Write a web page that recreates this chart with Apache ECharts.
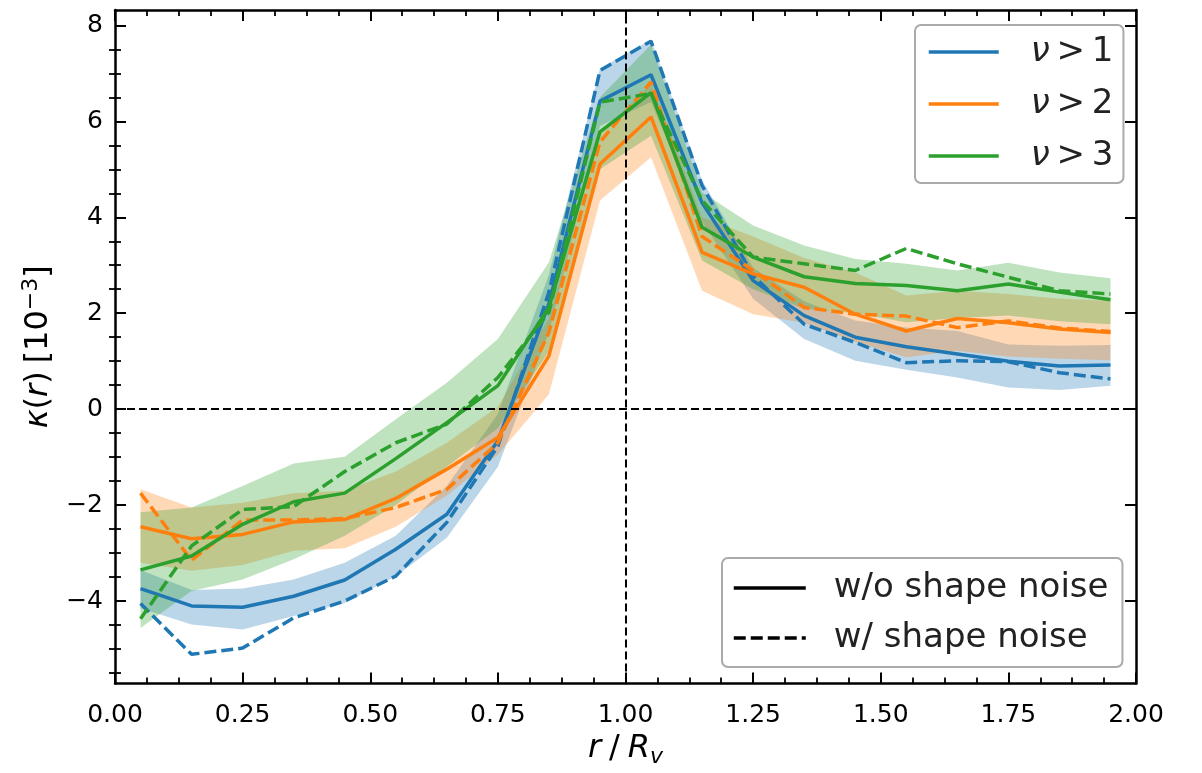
<!DOCTYPE html>
<html>
<head>
<meta charset="utf-8">
<script src="https://cdn.jsdelivr.net/npm/echarts@6/dist/echarts.min.js"></script>
<style>
  html, body { margin: 0; padding: 0; background: #fff; }
  #main { width: 1202px; height: 773px; }
</style>
</head>
<body>
<div id="main"></div>
<script>
// radial bins r / R_v
const rValues = [0.05, 0.15, 0.25, 0.35, 0.45, 0.55, 0.65, 0.75, 0.85, 0.95,
                 1.05, 1.15, 1.25, 1.35, 1.45, 1.55, 1.65, 1.75, 1.85, 1.95];

// nu > 1
const nu1Clean = [-3.74, -4.10, -4.13, -3.90, -3.56, -2.92, -2.19, -0.66, 2.20, 6.42,
                  6.97, 4.30, 2.68, 1.95, 1.50, 1.30, 1.15, 1.00, 0.90, 0.92];
const nu1Noisy = [-4.05, -5.11, -4.98, -4.35, -4.00, -3.48, -2.36, -0.77, 2.44, 7.06,
                  7.67, 4.66, 2.78, 1.77, 1.39, 0.97, 1.01, 0.99, 0.76, 0.63];
const nu1Hi = [-3.35, -3.77, -3.74, -3.55, -3.20, -2.64, -1.60, -0.10, 2.80, 7.10,
               7.70, 4.77, 2.95, 2.25, 1.85, 1.70, 1.63, 1.35, 1.32, 1.34];
const nu1Lo = [-4.15, -4.49, -4.59, -4.31, -4.04, -3.48, -2.68, -1.20, 1.60, 5.90,
               6.40, 3.90, 2.30, 1.46, 1.01, 0.82, 0.66, 0.45, 0.40, 0.49];

// nu > 2
const nu2Clean = [-2.45, -2.70, -2.61, -2.35, -2.30, -1.86, -1.25, -0.59, 1.11, 5.11,
                  6.09, 3.27, 2.82, 2.54, 1.98, 1.63, 1.89, 1.80, 1.67, 1.60];
const nu2Noisy = [-1.75, -3.15, -2.31, -2.31, -2.28, -2.05, -1.67, -0.70, 1.60, 5.57,
                  6.82, 3.60, 2.89, 2.12, 1.98, 1.94, 1.70, 1.84, 1.69, 1.62];
const nu2Hi = [-1.67, -2.05, -1.95, -1.75, -1.70, -1.30, -0.70, 0.05, 1.90, 5.70,
               6.80, 4.00, 3.60, 3.15, 2.85, 2.37, 2.47, 2.40, 2.30, 2.26];
const nu2Lo = [-3.20, -3.37, -3.25, -2.95, -2.90, -2.45, -1.80, -0.95, 0.31, 4.35,
               5.25, 2.47, 1.98, 1.80, 1.40, 1.08, 1.22, 1.10, 1.05, 1.02];

// nu > 3
const nu3Clean = [-3.35, -3.06, -2.40, -1.93, -1.75, -1.03, -0.28, 0.49, 2.12, 5.78,
                  6.60, 3.79, 3.17, 2.76, 2.62, 2.58, 2.47, 2.61, 2.44, 2.28];
const nu3Noisy = [-4.37, -2.85, -2.09, -2.03, -1.30, -0.70, -0.31, 0.66, 2.02, 6.40,
                  6.58, 4.35, 3.17, 3.03, 2.89, 3.35, 3.03, 2.75, 2.47, 2.40];
const nu3Hi = [-2.15, -2.05, -1.60, -1.13, -0.99, -0.21, 0.55, 1.46, 3.06, 6.50,
               7.60, 4.52, 3.83, 3.41, 3.13, 3.03, 2.89, 3.05, 2.85, 2.73];
const nu3Lo = [-4.56, -3.79, -3.55, -3.13, -2.64, -2.00, -1.20, -0.40, 1.20, 5.00,
               5.70, 3.10, 2.50, 2.10, 2.00, 1.81, 1.90, 1.95, 1.83, 1.77];

// ticks
const yMajorTicks = [-4, -2, 0, 2, 4, 6, 8];
const yMinorTicks = [-5.5, -5, -4.5, -3.5, -3, -2.5, -1.5, -1, -0.5, 0.5, 1, 1.5,
                     2.5, 3, 3.5, 4.5, 5, 5.5, 6.5, 7, 7.5];
const yMin = -5.72, yMax = 8.32;

const colors = { nu1: '#1f77b4', nu2: '#ff7f0e', nu3: '#2ca02c' };
const FONT = 'DejaVu Sans';

function pairs(ys) {
  return rValues.map((r, i) => [r, ys[i]]);
}

// shaded band between lo and hi, drawn as one polygon through the axes
function band(lo, hi, color) {
  return {
    type: 'custom', silent: true, z: 2,
    data: rValues.map((r, i) => [r, lo[i], hi[i]]),
    encode: { x: 0, y: [1, 2] },
    renderItem: (params, api) => {
      if (params.dataIndex !== 0) return null;
      const top = rValues.map((r, i) => api.coord([r, hi[i]]));
      const bottom = rValues.map((r, i) => api.coord([r, lo[i]])).reverse();
      return {
        type: 'polygon',
        shape: { points: top.concat(bottom) },
        style: { fill: echarts.color.modifyAlpha(color, 0.3), stroke: null }
      };
    }
  };
}

function line(name, ys, color, dashed) {
  return {
    name: name, type: 'line', data: pairs(ys), symbol: 'none', z: 3,
    color: color,
    lineStyle: { color: color, width: 3.5, type: dashed ? [12, 5] : 'solid' }
  };
}

const chart = echarts.init(document.getElementById('main'));

const tickLabel = { fontFamily: FONT, fontSize: 25, color: '#000' };

const xBase = {
  type: 'value', min: 0, max: 2, interval: 0.25,
  axisLine: { show: true, onZero: false, lineStyle: { color: '#000', width: 2.5 } },
  axisTick: { show: true, inside: true, length: 11, lineStyle: { color: '#000', width: 2 } },
  minorTick: { show: true, splitNumber: 4, length: 6, lineStyle: { color: '#000', width: 1.8 } },
  splitLine: { show: false }
};

const yBase = {
  type: 'value', min: yMin, max: yMax,
  axisLine: { show: true, onZero: false, lineStyle: { color: '#000', width: 2.5 } },
  splitLine: { show: false }
};

function yAxisDef(pos, major) {
  return Object.assign({}, yBase, {
    position: pos,
    axisLine: major ? yBase.axisLine : { show: false },
    axisTick: {
      show: true, inside: true, length: major ? 11 : 6,
      customValues: major ? yMajorTicks : yMinorTicks,
      lineStyle: { color: '#000', width: major ? 2 : 1.8 }
    },
    axisLabel: { show: false }
  });
}

const yMain = yAxisDef('left', true);
yMain.axisLabel = Object.assign({}, tickLabel, {
  show: true, customValues: yMajorTicks, margin: 12,
  formatter: v => (v < 0 ? '\u2212' + Math.abs(v) : String(v))
});
yMain.name = '{i|\u03ba}({i|r})\u2005[10{sup|\u22123}]';
yMain.nameLocation = 'middle';
yMain.nameRotate = 90;
yMain.nameGap = 58;
yMain.nameTextStyle = {
  fontFamily: FONT, fontSize: 32, color: '#000',
  rich: {
    i: { fontFamily: FONT, fontSize: 32, fontStyle: 'italic' },
    sup: { fontFamily: FONT, fontSize: 22, verticalAlign: 'top', padding: [0, 0, 15, 0] }
  }
};

const legendText = { fontFamily: FONT, fontSize: 34, color: '#222' };

chart.setOption({
  animation: false,
  backgroundColor: '#fff',
  grid: { left: 115, right: 66, top: 10, bottom: 88 },
  xAxis: [
    Object.assign({}, xBase, {
      position: 'bottom',
      axisLabel: Object.assign({}, tickLabel, { margin: 19, formatter: v => v.toFixed(2) }),
      name: '{i|r}\u2005/\u2005{i|R}{sub|v}',
      nameLocation: 'middle', nameGap: 44,
      nameTextStyle: {
        fontFamily: FONT, fontSize: 32, color: '#000',
        rich: {
          i: { fontFamily: FONT, fontSize: 32, fontStyle: 'italic' },
          sub: { fontFamily: FONT, fontSize: 22, fontStyle: 'italic', padding: [17, 0, 0, 0] }
        }
      }
    }),
    Object.assign({}, xBase, { position: 'top', axisLabel: { show: false } })
  ],
  yAxis: [yMain, yAxisDef('left', false), yAxisDef('right', true), yAxisDef('right', false)],
  legend: [
    {
      data: ['\u03bd > 1', '\u03bd > 2', '\u03bd > 3'],
      orient: 'vertical', left: 915, top: 25,
      backgroundColor: '#fff', borderColor: '#aaa', borderWidth: 2, borderRadius: 6,
      padding: [10, 10, 10, 12],
      itemWidth: 70, itemHeight: 16, itemGap: 18,
      itemStyle: { opacity: 0 },
      lineStyle: { width: 3.5 },
      formatter: name => '{i|\u03bd}\u2009>\u2009' + name.slice(-1),
      textStyle: Object.assign({}, legendText, {
        padding: [0, 0, 0, 27],
        rich: { i: Object.assign({}, legendText, { fontStyle: 'italic' }) }
      })
    },
    {
      data: ['w/o shape noise', 'w/ shape noise'],
      orient: 'vertical', left: 722, top: 558,
      backgroundColor: '#fff', borderColor: '#aaa', borderWidth: 2, borderRadius: 6,
      padding: [13, 14, 12, 10],
      itemWidth: 72, itemHeight: 16, itemGap: 16,
      itemStyle: { opacity: 0 },
      lineStyle: { width: 3.5 },
      textStyle: Object.assign({}, legendText, { padding: [0, 0, 0, 23] })
    }
  ],
  series: [
    {
      name: 'ref', type: 'line', data: [], z: 1, silent: true,
      markLine: {
        silent: true, symbol: ['none', 'none'], label: { show: false },
        lineStyle: { color: '#000', width: 2, type: [8, 4] },
        data: [{ xAxis: 1 }, { yAxis: 0 }]
      }
    },
    band(nu1Lo, nu1Hi, colors.nu1),
    band(nu2Lo, nu2Hi, colors.nu2),
    band(nu3Lo, nu3Hi, colors.nu3),
    line('\u03bd > 1', nu1Clean, colors.nu1, false),
    line('nu1-noise', nu1Noisy, colors.nu1, true),
    line('\u03bd > 2', nu2Clean, colors.nu2, false),
    line('nu2-noise', nu2Noisy, colors.nu2, true),
    line('\u03bd > 3', nu3Clean, colors.nu3, false),
    line('nu3-noise', nu3Noisy, colors.nu3, true),
    { name: 'w/o shape noise', type: 'line', data: [], symbol: 'none', color: '#000',
      lineStyle: { color: '#000', width: 3.5 } },
    { name: 'w/ shape noise', type: 'line', data: [], symbol: 'none', color: '#000',
      lineStyle: { color: '#000', width: 3.5, type: [12, 5] } }
  ]
});
</script>
</body>
</html>
